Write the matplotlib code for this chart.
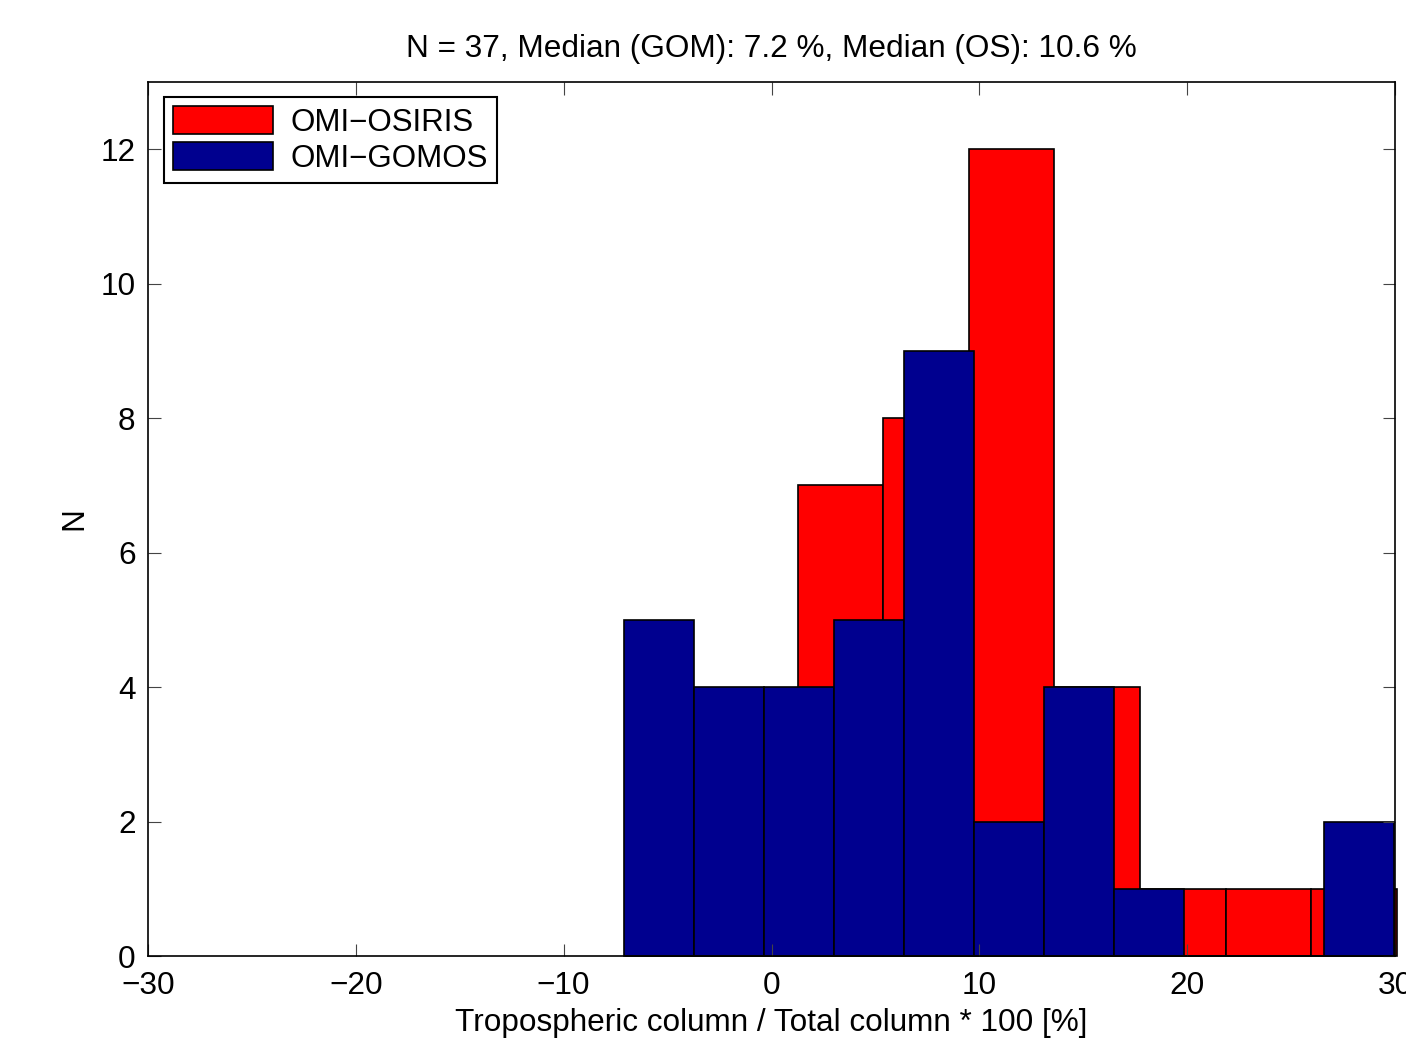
import matplotlib
matplotlib.use('Agg')
import matplotlib.pyplot as plt

# histogram bins
osiris_edges = [-6.98, -2.86, 1.26, 5.37, 9.49, 13.61, 17.73, 21.85, 25.97, 30.09]
osiris_counts = [1, 2, 7, 8, 12, 4, 1, 1, 1]

gomos_edges = [-7.11, -3.74, -0.37, 3.00, 6.37, 9.74, 13.11, 16.48, 19.85, 23.22, 26.59, 29.96]
gomos_counts = [5, 4, 4, 5, 9, 2, 4, 1, 0, 0, 2]

title = 'N = 37, Median (GOM): 7.2 %, Median (OS): 10.6 %'
xlabel = 'Tropospheric column / Total column * 100 [%]'
ylabel = 'N'
xticks = [-30, -20, -10, 0, 10, 20, 30]
yticks = [0, 2, 4, 6, 8, 10, 12]

plt.rcParams['font.family'] = ['Liberation Sans', 'DejaVu Sans']
fs = 22.7

fig = plt.figure(figsize=(14.06, 10.43), dpi=100)
ax = fig.add_axes([148/1406, 87/1043, 1247/1406, 874/1043])


def draw_hist(edges, counts, color, label):
  lefts = edges[:-1]
  widths = [edges[i+1] - edges[i] for i in range(len(counts))]
  bars = ax.bar(lefts, counts, width=widths, align='edge', color=color,
                edgecolor='black', linewidth=1.2, label=label)
  for b in bars:
    b.set_clip_on(False)
  return bars


draw_hist(osiris_edges, osiris_counts, '#FF0000', 'OMI\u2212OSIRIS')
draw_hist(gomos_edges, gomos_counts, '#00008F', 'OMI\u2212GOMOS')

ax.set_xlim(-30, 30)
ax.set_ylim(0, 13)
ax.set_xticks(xticks)
ax.set_yticks(yticks)
ax.tick_params(direction='in', length=9, width=0.8, top=True, right=True,
               labelsize=fs, color='#444444')
ax.tick_params(axis='x', pad=11)
ax.tick_params(axis='y', pad=9)
for s in ax.spines.values():
  s.set_linewidth(1.2)

ax.set_title(title, fontsize=fs, pad=18)
ax.set_xlabel(xlabel, fontsize=fs, labelpad=5)
ax.set_ylabel(ylabel, fontsize=fs, labelpad=8)

leg = ax.legend(loc='upper left', bbox_to_anchor=(16/1247, 1 - 15/874),
                borderaxespad=0, fontsize=22.5, fancybox=False, framealpha=1,
                edgecolor='black', borderpad=0.3, labelspacing=0.15,
                handlelength=3.2, handleheight=0.97, handletextpad=0.55)
leg.get_frame().set_linewidth(1.5)

fig.savefig('out.png', dpi=100)
